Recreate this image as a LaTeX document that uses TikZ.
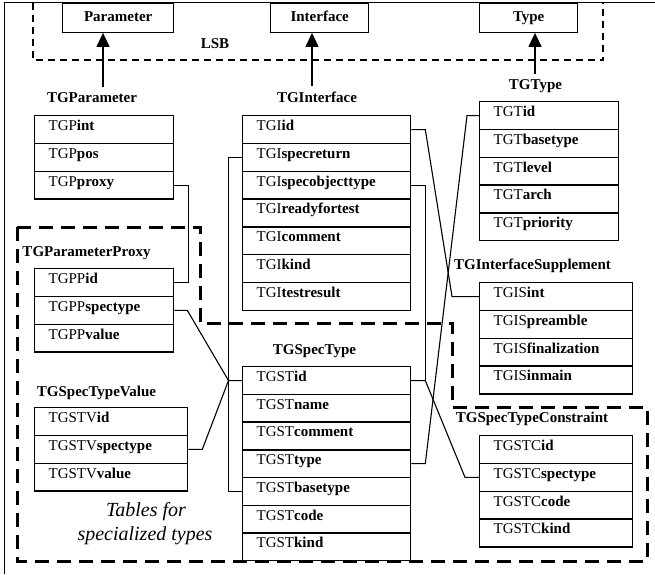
\documentclass[tikz,border=0pt]{standalone}
\usepackage{fontspec}
\setmainfont{Liberation Serif}
\usetikzlibrary{arrows.meta,calc}
\begin{document}
\begin{tikzpicture}[x=1pt,y=-1pt,
  rowbox/.style={draw, line width=1.3pt, anchor=north west, minimum height=27.8pt, inner xsep=14pt, inner ysep=0pt, text height=10pt, text depth=8pt, align=left, font=\fontsize{15}{18}\selectfont},
  lbl/.style={anchor=base, font=\fontsize{15}{18}\selectfont\bfseries, inner sep=1pt},
  topbox/.style={draw, line width=1.4pt, anchor=north west, minimum height=29pt, inner sep=0pt, text height=10pt, text depth=3pt, font=\fontsize{15}{18}\selectfont\bfseries},
  conn/.style={line width=1.1pt},
  arr/.style={line width=1.4pt, -{Triangle[length=14pt,width=13pt]}},
  region/.style={line width=3pt, dash pattern=on 14pt off 8pt},
  lsbline/.style={line width=1.3pt, dash pattern=on 7pt off 5pt},
  itl/.style={anchor=base, font=\fontsize{20}{24}\selectfont\itshape}]
\useasboundingbox (0,0) rectangle (655,574);
% outer frame
\draw[line width=1.5pt] (655,2.5) -- (4.5,2.5) -- (4.5,574);
% LSB dashed
\draw[lsbline] (33,2.5) -- (33,60) -- (603,60) -- (603,2.5);
% region of specialized types
\draw[region] (17,227) -- (200,227) -- (200,323) -- (452,323) -- (452,407) -- (647,407) -- (647,561) -- (17,561) -- cycle;
% top boxes
\node[topbox, minimum width=111pt] (par) at (62,2.5) {Parameter};
\node[topbox, minimum width=98pt] (int) at (270,2.5) {Interface};
\node[topbox, minimum width=98pt] (typ) at (479,2.5) {Type};
\node[lbl] (lsbL) at (215,48) {LSB};
% labels
\node[lbl] (lP) at (92,102) {TGParameter};
\node[lbl] (lI) at (317,102) {TGInterface};
\node[lbl] (lT) at (535.5,89) {TGType};
\node[lbl] (lIS) at (532.5,269) {TGInterfaceSupplement};
\node[lbl] (lPP) at (86.5,256) {TGParameterProxy};
\node[lbl] (lSTV) at (96.5,396) {TGSpecTypeValue};
\node[lbl] (lST) at (314.5,354) {TGSpecType};
\node[lbl] (lSTC) at (532,422) {TGSpecTypeConstraint};
% arrows
\coordinate (aP) at (103,0);
\coordinate (aI) at (312,0);
\coordinate (aT) at (535,0);
\draw[arr, shorten <=4pt] (lP.north -| aP) -- (aP |- par.south);
\draw[arr, shorten <=4pt] (lI.north -| aI) -- (aI |- int.south);
\draw[arr, shorten <=4pt] (lT.north -| aT) -- (aT |- typ.south);
% tables
\foreach \t [count=\i] in {int,pos,proxy}
  \node[rowbox, text width=111pt] (P\i) at (34,{115+(\i-1)*27.8}) {TGP\textbf{\t}};
\foreach \t [count=\i] in {id,specreturn,specobjecttype,readyfortest,comment,kind,testresult}
  \node[rowbox, text width=140pt] (I\i) at (242,{115+(\i-1)*27.8}) {TGI\textbf{\t}};
\foreach \t [count=\i] in {id,basetype,level,arch,priority}
  \node[rowbox, text width=111pt] (T\i) at (479,{101+(\i-1)*27.8}) {TGT\textbf{\t}};
\foreach \t [count=\i] in {int,preamble,finalization,inmain}
  \node[rowbox, text width=125pt] (IS\i) at (479,{282+(\i-1)*27.8}) {TGIS\textbf{\t}};
\foreach \t [count=\i] in {id,spectype,value}
  \node[rowbox, text width=111pt] (PP\i) at (34,{268+(\i-1)*27.8}) {TGPP\textbf{\t}};
\foreach \t [count=\i] in {id,spectype,value}
  \node[rowbox, text width=125pt] (STV\i) at (34,{407+(\i-1)*27.8}) {TGSTV\textbf{\t}};
\foreach \t [count=\i] in {id,name,comment,type,basetype,code,kind}
  \node[rowbox, text width=140pt] (ST\i) at (242,{366+(\i-1)*27.7}) {TGST\textbf{\t}};
\foreach \t [count=\i] in {id,spectype,code,kind}
  \node[rowbox, text width=125pt] (STC\i) at (479,{435+(\i-1)*27.8}) {TGSTC\textbf{\t}};
% italic note
\node[itl] (note1) at (146,516.5) {Tables for};
\node[itl] (note2) at (145,540) {specialized types};
% junction coordinates
\coordinate (jL) at ($(ST1.west)+(-13.5,0)$);
\coordinate (jIS) at ($(IS1.west)+(-27,0)$);
\coordinate (jSTC) at ($(STC2.west)+(-14,0)$);
\coordinate (jT) at ($(T1.west)+(-12,0)$);
% connectors
\draw[conn] (P3.east) -- ++(14,0) |- (PP1.east);
\draw[conn] (PP2.east) -- ++(13,0) -- (jL) -- (ST1.west);
\draw[conn] (STV2.east) -- ++(14,0) -- (jL);
\draw[conn] (I2.west) -- ++(-13.5,0) |- (ST5.west);
\draw[conn] (I1.east) -- ++(14,0) -- (jIS) -- (IS1.west);
\draw[conn] (I3.east) -- ++(14,0) |- (ST1.east);
\draw[conn] (ST1.east) -- ++(14,0) -- (jSTC) -- (STC2.west);
\draw[conn] (ST4.east) -- ++(14,0) -- (jT) -- (T1.west);
\end{tikzpicture}
\end{document}
